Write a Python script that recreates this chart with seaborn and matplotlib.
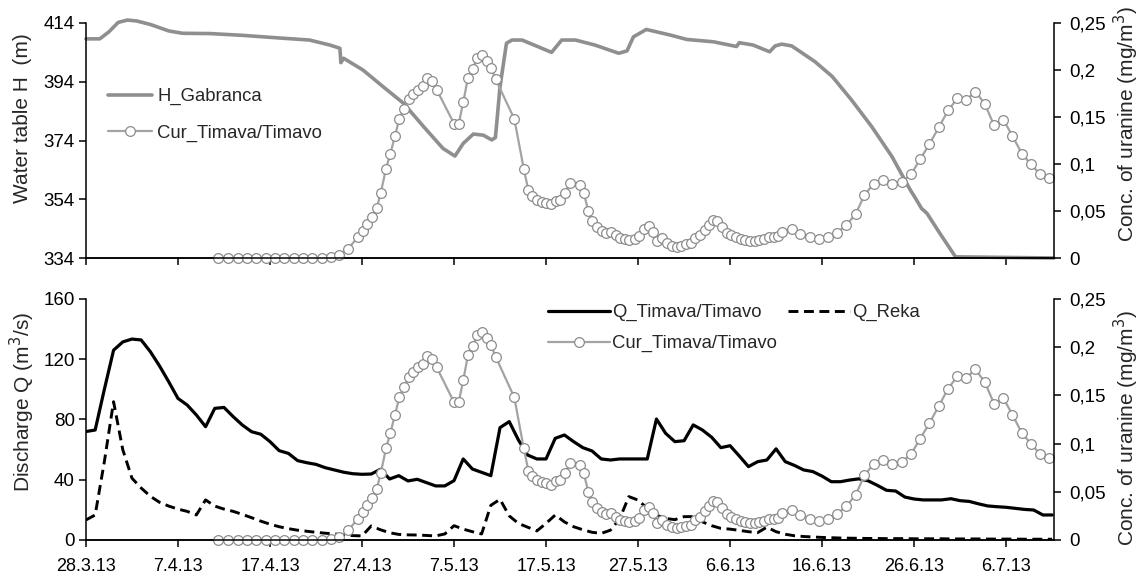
import numpy as np
import pandas as pd
import matplotlib
matplotlib.use("Agg")
import matplotlib.pyplot as plt
import seaborn as sns

# ---------------- data ----------------
START = "2013-03-28"

# water table H_Gabranca (day offset from START, metres)
h_day = [0, 1.5, 2.5, 3.5, 4.5, 5.5, 7.0, 9.0, 10.5, 13.5, 17.0, 21.0, 24.3, 26.5,
         27.6, 27.7, 28.0, 30.1, 32.3, 34.5, 36.7, 38.8, 40.1, 41.0, 42.1, 43.2,
         44.1, 44.5, 45.0, 45.7, 46.3, 47.4, 50.6, 51.7, 53.2, 55.3, 57.9, 58.8,
         59.5, 60.9, 63.5, 65.3, 68.2, 70.7, 71.0, 72.5, 74.3, 74.9, 75.6, 76.7,
         79.2, 81.1, 83.2, 85.4, 87.6, 89.6, 90.1, 90.8, 91.4, 92.8, 94.5, 105.2]
h_gabranca = [408.6, 408.6, 411.0, 414.2, 415.0, 414.7, 413.5, 411.3, 410.5, 410.4,
              409.8, 408.9, 408.2, 406.5, 405.4, 400.5, 402.0, 398.0, 392.3, 386.7,
              378.7, 371.3, 368.7, 373.0, 376.2, 375.8, 374.2, 375.0, 392.3, 407.1,
              408.2, 408.2, 404.0, 408.2, 408.2, 406.5, 403.7, 404.5, 409.3, 411.8,
              409.9, 408.4, 407.6, 406.0, 407.3, 406.5, 404.2, 406.2, 406.8, 406.2,
              400.9, 395.8, 387.8, 378.7, 368.5, 357.1, 354.6, 350.9, 349.2, 342.4,
              334.4, 334.0]

# uranine concentration Cur_Timava/Timavo (day offset, mg/m3)
cur_day = [14.38, 15.47, 16.49, 17.50, 18.51, 19.53, 20.54, 21.55, 22.58, 23.59,
           24.60, 25.62, 26.63,
           27.53, 28.51, 29.53, 30.08, 30.58, 31.09, 31.60, 32.03, 32.61, 33.08,
           33.59, 34.05, 34.57, 35.08, 35.58, 36.09, 36.60, 37.10, 37.61, 38.12,
           40.00, 40.51, 41.01, 41.52, 42.03, 42.53, 43.08, 43.59, 44.02, 44.53,
           46.55, 47.58, 48.08, 48.51, 49.02, 49.53, 50.03, 50.54, 51.05, 51.55,
           52.07, 52.61, 53.66, 54.10, 54.60, 55.03, 55.54, 56.05, 56.55, 57.07,
           57.58, 58.08, 58.53,
           59.05, 59.64, 60.14, 60.65, 61.16, 61.60, 62.10, 62.61, 63.12, 63.66,
           64.21, 64.71, 65.22, 65.73, 66.23, 66.74, 67.25, 67.68, 68.12, 68.62,
           69.13, 69.64, 70.14, 70.65, 71.16, 71.66, 72.17, 72.68, 73.18, 73.70,
           74.20,
           74.82, 75.25, 75.68, 76.71, 77.64, 78.66, 79.67, 80.68, 81.63, 82.64,
           83.66, 84.60, 85.62, 86.63, 87.64, 88.66, 89.67,
           90.65, 91.66, 92.68, 93.70, 94.71, 95.65, 96.66, 97.68, 98.70, 99.71,
           100.68, 101.71, 102.68, 103.70, 104.71]
cur_uranine = [0, 0, 0, 0, 0, 0, 0, 0, 0, 0, 0, 0, 0.001,
               0.003, 0.010, 0.022, 0.029, 0.036, 0.044, 0.053, 0.069, 0.095, 0.111,
               0.130, 0.148, 0.159, 0.169, 0.174, 0.179, 0.183, 0.191, 0.188, 0.179,
               0.143, 0.143, 0.166, 0.192, 0.201, 0.213, 0.216, 0.210, 0.202, 0.190,
               0.148, 0.095, 0.072, 0.066, 0.062, 0.060, 0.059, 0.057, 0.061, 0.062,
               0.069, 0.080, 0.078, 0.069, 0.050, 0.039, 0.033, 0.029, 0.027, 0.028,
               0.024, 0.021, 0.020,
               0.019, 0.020, 0.023, 0.031, 0.034, 0.028, 0.018, 0.021, 0.016, 0.013,
               0.012, 0.013, 0.015, 0.016, 0.021, 0.024, 0.030, 0.035, 0.040, 0.039,
               0.033, 0.027, 0.024, 0.022, 0.020, 0.019, 0.018, 0.018, 0.019, 0.020,
               0.022,
               0.022, 0.023, 0.028, 0.031, 0.026, 0.022, 0.020, 0.022, 0.027, 0.035,
               0.047, 0.067, 0.079, 0.083, 0.079, 0.081, 0.089,
               0.105, 0.121, 0.139, 0.157, 0.170, 0.168, 0.177, 0.164, 0.141, 0.147,
               0.130, 0.111, 0.100, 0.089, 0.085]

# daily discharge (m3/s), one value per day from START
q_timavo = [72, 73, 100, 126, 131.5, 133.4, 132.8, 125, 115.5, 105,
            94, 89.6, 83, 75.2, 87.4, 88, 81.9, 76.3, 71.9, 70.2,
            65.3, 59.3, 57.5, 52.7, 51.3, 50.2, 48, 46.5, 45, 44,
            43.6, 43.8, 46.9, 40.5, 42.7, 39.2, 40.3, 38.1, 35.9, 35.9,
            39.4, 53.8, 47.1, 44.9, 42.7, 74.6, 78.6, 66.4, 56.4, 53.8,
            53.8, 67.5, 69.7, 65.3, 61.3, 59.1, 53.8, 53.1, 53.8, 53.8,
            53.8, 53.8, 80.3, 70.8, 65.3, 65.9, 76.4, 73, 68.2, 61.3,
            62.6, 55.8, 48.7, 52, 53.1, 60.5, 52, 49.5, 46.5, 45.4,
            42.4, 38.7, 38.7, 39.8, 40.6, 39.3, 36.3, 33, 32.5, 28.5,
            27.2, 26.6, 26.6, 26.6, 27.4, 26.1, 25.6, 24, 22.6, 22.1,
            21.7, 21, 20.3, 19.9, 16.6, 16.6]
q_reka = [13.3, 16.6, 52, 91.8, 60, 41, 34.5, 29, 25, 22.5,
          20.5, 19, 16.6, 26.6, 22.5, 20.5, 19, 17, 14.8, 12.5,
          10.5, 8.8, 7.5, 6.5, 5.8, 5.1, 4.5, 4, 3.4, 2.9,
          2.7, 9.3, 6.8, 4.8, 3.7, 3.4, 3.3, 3, 2.7, 4,
          9.5, 7.2, 5.5, 4, 23, 27, 16, 11, 8.5, 6,
          11, 16.6, 12, 8.8, 6.8, 5.1, 4.4, 6.5, 14, 28.8,
          26.5, 21, 16.5, 14.3, 13.5, 15.5, 15.5, 12, 9.5, 7.7,
          7.2, 6.4, 5.5, 4.9, 8.5, 5.5, 3.8, 2.8, 2.3, 2,
          1.7, 1.5, 1.3, 1.2, 1.1, 1.0, 1.0, 0.9, 0.9, 0.9,
          0.8, 0.8, 0.8, 0.8, 0.7, 0.7, 0.7, 0.7, 0.6, 0.6,
          0.6, 0.6, 0.5, 0.5, 0.5, 0.5]

x_tick_dates = ["2013-03-28", "2013-04-07", "2013-04-17", "2013-04-27", "2013-05-07",
                "2013-05-17", "2013-05-27", "2013-06-06", "2013-06-16", "2013-06-26",
                "2013-07-06"]
x_tick_labels = ["28.3.13", "7.4.13", "17.4.13", "27.4.13", "7.5.13", "17.5.13",
                 "27.5.13", "6.6.13", "16.6.13", "26.6.13", "6.7.13"]
h_ticks = [334, 354, 374, 394, 414]
q_ticks = [0, 40, 80, 120, 160]
conc_ticks = [0, 0.05, 0.1, 0.15, 0.2, 0.25]
conc_labels = ["0", "0,05", "0,1", "0,15", "0,2", "0,25"]
X_END_DAYS = 105.2

# ---------------- frames ----------------
t0 = pd.Timestamp(START)
to_date = lambda d: t0 + pd.to_timedelta(np.asarray(d, dtype=float), unit="D")
df_h = pd.DataFrame({"date": to_date(h_day), "H": h_gabranca})
df_c = pd.DataFrame({"date": to_date(cur_day), "conc": cur_uranine})
df_q = pd.DataFrame({"date": to_date(np.arange(len(q_timavo))), "Q": q_timavo})
df_r = pd.DataFrame({"date": to_date(np.arange(len(q_reka))), "Q": q_reka})

# ---------------- style ----------------
sns.set_style("ticks")
plt.rcParams["font.family"] = ["Liberation Sans", "DejaVu Sans"]
TICK_FS = 13.5
XTICK_FS = 13
LABEL_FS = 15
LEG_FS = 13.3

H_COL = "#8f8f8f"
C_LINE = "#a3a3a3"
C_EDGE = "#8c8c8c"

fig = plt.figure(figsize=(11.43, 5.75), dpi=100)
ax1 = fig.add_axes([0.0752, 0.5513, 0.8469, 0.4087])
ax2 = fig.add_axes([0.0752, 0.0609, 0.8469, 0.4191])
ax1r = ax1.twinx()
ax2r = ax2.twinx()

cur_kws = dict(color=C_LINE, linewidth=1.6, marker="o", markersize=7,
               markerfacecolor="white", markeredgecolor=C_EDGE,
               markeredgewidth=0.9, clip_on=False)

# top panel
sns.lineplot(data=df_h, x="date", y="H", ax=ax1, color=H_COL, linewidth=2.6,
             legend=False, clip_on=False)
sns.lineplot(data=df_c, x="date", y="conc", ax=ax1r, legend=False, **cur_kws)

# bottom panel
sns.lineplot(data=df_q, x="date", y="Q", ax=ax2, color="black", linewidth=2.3,
             legend=False)
sns.lineplot(data=df_r, x="date", y="Q", ax=ax2, color="black", linewidth=2.1,
             linestyle=(0, (3.4, 1.9)), legend=False)
sns.lineplot(data=df_c, x="date", y="conc", ax=ax2r, legend=False, **cur_kws)

xmin = t0
xmax = t0 + pd.Timedelta(days=X_END_DAYS)
tick_pos = pd.to_datetime(x_tick_dates)

for ax in (ax1, ax2):
    ax.set_xlim(xmin, xmax)
    ax.set_xticks(tick_pos)

for ax in (ax1, ax2, ax1r, ax2r):
    ax.spines["top"].set_visible(False)
    for s in ("left", "right", "bottom"):
        ax.spines[s].set_linewidth(1.1)
        ax.spines[s].set_color("black")
    ax.tick_params(axis="both", direction="out", length=5, width=1.1,
                   colors="black")
    ax.tick_params(axis="y", labelsize=TICK_FS, pad=3)
    ax.tick_params(axis="x", labelsize=XTICK_FS, pad=8)
    ax.set_xlabel("")

ax1.set_ylim(334, 414)
ax1.set_yticks(h_ticks)
ax1.tick_params(axis="x", labelbottom=False)
ax2.set_ylim(0, 160)
ax2.set_yticks(q_ticks)
ax2.set_xticklabels(x_tick_labels)

for axr in (ax1r, ax2r):
    axr.set_ylim(0, 0.25)
    axr.set_yticks(conc_ticks)
    axr.set_yticklabels(conc_labels)
    axr.spines["left"].set_visible(False)
    axr.tick_params(axis="y", pad=6)
ax1.spines["right"].set_visible(False)
ax2.spines["right"].set_visible(False)

# axis labels (centres placed as in the reference)
def put_label(ax, text, x, y):
    ax.set_ylabel(text, fontsize=LABEL_FS)
    ax.yaxis.set_label_coords(x, y)
    ax.yaxis.label.set_ha("center")
    ax.yaxis.label.set_va("center")

put_label(ax1, "Water table H  (m)", -0.066, 0.596)
put_label(ax2, "Discharge Q (m$^3$/s)", -0.066, 0.573)
put_label(ax1r, "Conc. of uranine (mg/m$^3$)", 1.0745, 0.570)
put_label(ax2r, "Conc. of uranine (mg/m$^3$)", 1.0745, 0.465)

# legends
hH = ax1.lines[0]
hC = ax1r.lines[0]
ax1r.legend([hH, hC], ["H_Gabranca", "Cur_Timava/Timavo"],
            loc="upper left", bbox_to_anchor=(108 / 1143, 1 - 88 / 575),
            bbox_transform=fig.transFigure, frameon=False, fontsize=LEG_FS,
            handlelength=2.4, handletextpad=0.27, labelspacing=1.04,
            borderpad=0, borderaxespad=0)

hQ = ax2.lines[0]
hR = ax2.lines[1]
hC2 = ax2r.lines[0]
ax2r.legend([hQ, hC2, hR], ["Q_Timava/Timavo", "Cur_Timava/Timavo", "Q_Reka"],
            ncol=2, loc="upper left", bbox_to_anchor=(548 / 1143, 1 - 304 / 575),
            bbox_transform=fig.transFigure, frameon=False, fontsize=LEG_FS,
            handlelength=3.35, handletextpad=0.12, labelspacing=0.75,
            columnspacing=0.62, borderpad=0, borderaxespad=0)

fig.savefig("out.png", dpi=100)
